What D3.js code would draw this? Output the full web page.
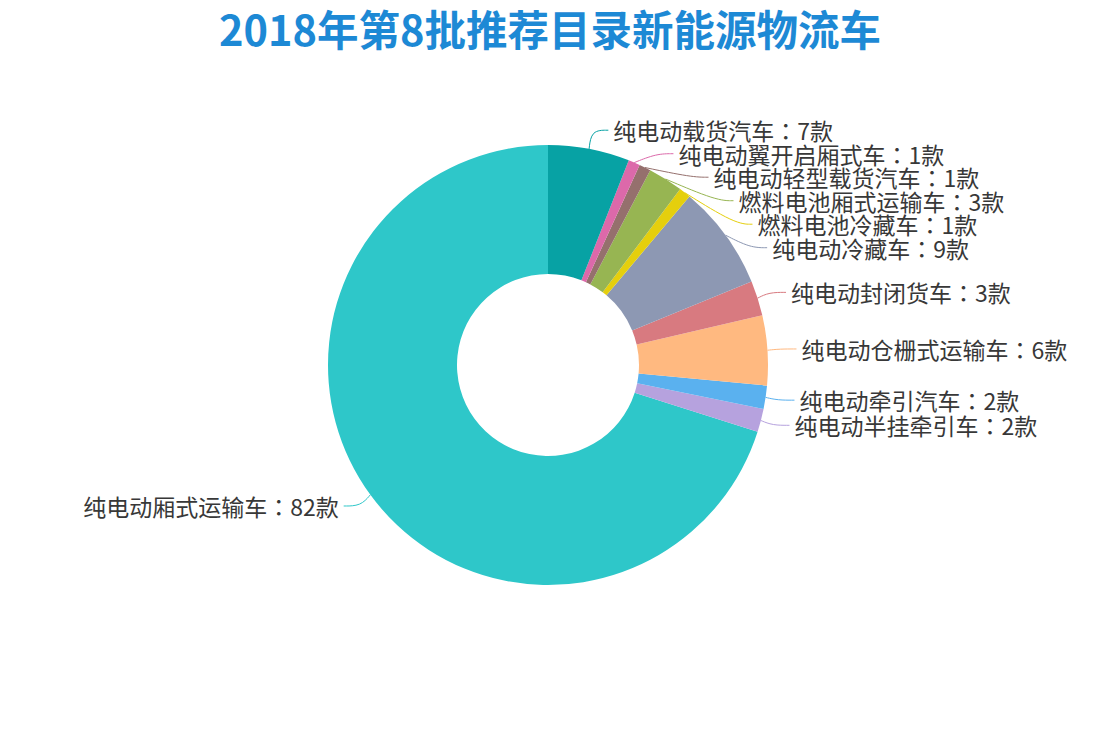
<!DOCTYPE html>
<html>
<head>
<meta charset="utf-8">
<script src="https://cdn.jsdelivr.net/npm/d3@7"></script>
<style>
  html, body { margin: 0; padding: 0; background: #fff; }
  svg { display: block; }
</style>
</head>
<body>
<script>
const W = 1097, H = 731

const TITLE = '2018年第8批推荐目录新能源物流车'

// series order as in the source chart (drawn counterclockwise from 12 o'clock)
const categories = [
  '纯电动厢式运输车', '纯电动半挂牵引车', '纯电动牵引汽车', '纯电动仓栅式运输车',
  '纯电动封闭货车', '纯电动冷藏车', '燃料电池冷藏车', '燃料电池厢式运输车',
  '纯电动轻型载货汽车', '纯电动翼开启厢式车', '纯电动载货汽车'
]
const values = [82, 2, 2, 6, 3, 9, 1, 3, 1, 1, 7]
const palette = [
  '#2ec7c9', '#b6a2de', '#5ab1ef', '#ffb980', '#d87a80', '#8d98b3',
  '#e5cf0d', '#97b552', '#95706d', '#dc69aa', '#07a2a4'
]

const cx = 548, cy = 365
const outerR = 220, innerR = 91
const labelRA = 232, labelRB = 239   // ellipse that carries the label elbows
const len2 = 17, textGap = 5
const lineGap = 23.5
const FONT = '"Noto Sans CJK SC", "Noto Sans", sans-serif'

const data = categories.map((name, i) => ({ name, value: values[i], color: palette[i] }))

const svg = d3.select('body').append('svg')
  .attr('width', W)
  .attr('height', H)
  .attr('viewBox', `0 0 ${W} ${H}`)

svg.append('text')
  .attr('x', 550)
  .attr('y', 28)
  .attr('text-anchor', 'middle')
  .attr('dominant-baseline', 'central')
  .attr('font-family', FONT)
  .attr('font-weight', 'bold')
  .attr('font-size', 41.5)
  .attr('fill', '#1d89d5')
  .text(TITLE)

const pie = d3.pie()
  .sort(null)
  .value(d => d.value)
  .startAngle(2 * Math.PI)
  .endAngle(0)

const arcs = pie(data)

const arc = d3.arc()
  .innerRadius(innerR)
  .outerRadius(outerR)

const g = svg.append('g')
  .attr('transform', `translate(${cx}, ${cy})`)

g.selectAll('.slice')
  .data(arcs)
  .join('path')
  .attr('class', 'slice')
  .attr('d', arc)
  .attr('fill', d => d.data.color)

// label layout: start on an ellipse, push overlapping labels down, re-fit x
const labels = arcs.map(d => {
  const a = (d.startAngle + d.endAngle) / 2
  const sx = Math.sin(a), sy = -Math.cos(a)
  return {
    d,
    dir: sx >= 0 ? 1 : -1,
    ex: outerR * sx, ey: outerR * sy,
    y: labelRB * sy
  }
})

;[1, -1].forEach(dir => {
  const side = labels.filter(l => l.dir === dir).sort((a, b) => a.y - b.y)
  for (let i = 1; i < side.length; i++) {
    if (side[i].y < side[i - 1].y + lineGap) side[i].y = side[i - 1].y + lineGap
  }
})

labels.forEach(l => {
  const t = Math.min(1, Math.abs(l.y) / labelRB)
  l.x = l.dir * labelRA * Math.sqrt(1 - t * t)
})

const line = d3.line().curve(d3.curveBasis)

g.selectAll('.label-line')
  .data(labels)
  .join('path')
  .attr('class', 'label-line')
  .attr('d', l => line([[l.ex, l.ey], [l.x, l.y], [l.x + l.dir * len2, l.y]]))
  .attr('fill', 'none')
  .attr('stroke', l => l.d.data.color)
  .attr('stroke-width', 1)

const txt = g.selectAll('.label')
  .data(labels)
  .join('text')
  .attr('class', 'label')
  .attr('x', l => l.x + l.dir * (len2 + textGap))
  .attr('y', l => l.y)
  .attr('text-anchor', l => l.dir > 0 ? 'start' : 'end')
  .attr('dominant-baseline', 'central')
  .attr('font-family', FONT)
  .attr('font-size', 23)
  .attr('fill', '#383838')

txt.append('tspan').text(l => l.d.data.name)
// centred full-width colon, as in the source
txt.append('tspan')
  .attr('font-family', '"Noto Sans CJK TC", "Noto Sans CJK SC", sans-serif')
  .text('：')
txt.append('tspan').text(l => `${l.d.data.value}款`)
</script>
</body>
</html>
